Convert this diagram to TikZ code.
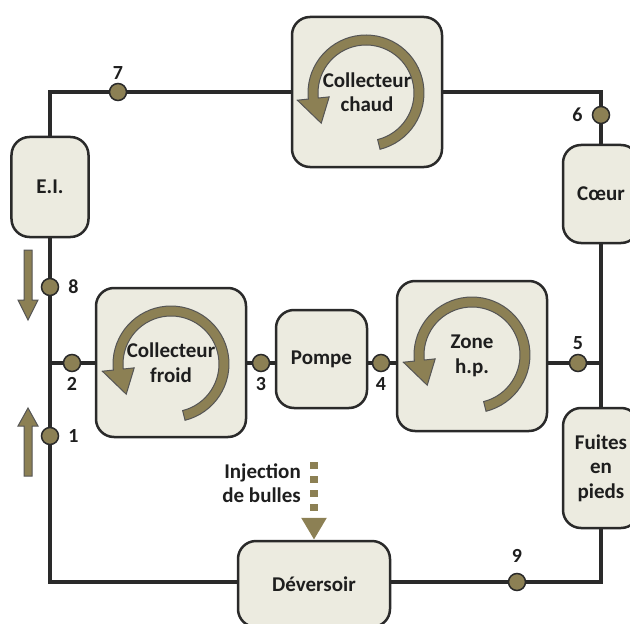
\documentclass[tikz,border=0pt]{standalone}
\usepackage{fontspec}
\setmainfont{Carlito}
\usetikzlibrary{positioning, arrows.meta, backgrounds}

\definecolor{fond}{HTML}{ECEBE0}
\definecolor{kaki}{HTML}{8C8054}
\definecolor{trait}{HTML}{2A2A2A}
\definecolor{encre}{HTML}{1E1E1E}

\begin{document}
\begin{tikzpicture}[x=1bp, y=-1bp,
    bloc/.style={draw=trait, fill=fond, line width=2.5bp, rounded corners=18bp, inner sep=0pt, align=center, text=encre, font=\bfseries\fontsize{21bp}{24.5bp}\selectfont},
    txt/.style={inner sep=0pt, align=center, text=encre, font=\bfseries\fontsize{21bp}{24.5bp}\selectfont},
    pt/.style={circle, draw=trait, fill=kaki, line width=1.5bp, minimum size=17bp, inner sep=0pt},
    num/.style={inner sep=0pt, text=encre, font=\bfseries\fontsize{20bp}{22bp}\selectfont},
    tuyau/.style={draw=trait, line width=4.5bp},
    fleche/.style={fill=kaki, draw=trait!80, line width=1bp},
    injection/.style={draw=kaki, line width=8bp, dash pattern=on 7bp off 7bp, -{Triangle[width=24bp, length=22bp]}}]
    \useasboundingbox (0,0) rectangle (630,624);
    % blocs
    \node[bloc, minimum width=150bp, minimum height=150bp] (chaud) at (367,92) {};
    \node[bloc, minimum width=77bp, minimum height=100bp] (EI) at (50,187) {E.I.};
    \node[bloc, minimum width=76bp, minimum height=98bp] (coeur) at (601,194) {Cœur};
    \node[bloc, minimum width=150bp, minimum height=149bp] (froid) at (171,362.5) {};
    \node[bloc, minimum width=91bp, minimum height=98bp] (pompe) at (321.5,359) {Pompe};
    \node[bloc, minimum width=150bp, minimum height=150bp] (zone) at (472,356) {};
    \node[bloc, minimum width=76bp, minimum height=120bp] (fuites) at (601,468) {Fuites\\en\\pieds};
    \node[bloc, minimum width=152bp, minimum height=86bp] (dev) at (314,584) {Déversoir};
    % points de mesure
    \node[pt] (p7) at (118,92) {};
    \node[pt] (p6) at (601,115) {};
    \node[pt] (p8) at (50,287) {};
    \node[pt] (p2) at (72,363) {};
    \node[pt] (p1) at (50,436) {};
    \node[pt] (p3) at (261,363) {};
    \node[pt] (p4) at (381,363) {};
    \node[pt] (p5) at (578,363) {};
    \node[pt] (p9) at (517,582) {};
    \node[num, above=3.5bp of p7] (l7) {7};
    \node[num, left=9bp of p6] (l6) {6};
    \node[num, right=9bp of p8] (l8) {8};
    \node[num, below=5bp of p2] (l2) {2};
    \node[num, right=9bp of p1] (l1) {1};
    \node[num, below=5bp of p3] (l3) {3};
    \node[num, below=5bp of p4] (l4) {4};
    \node[num, above=3.5bp of p5] (l5) {5};
    \node[num, above=10.5bp of p9] (l9) {9};
    % circuit
    \begin{scope}[on background layer]
        \draw[tuyau] (EI.center) |- (chaud.center) -| (coeur.center) -- (fuites.center) |- (p9.center) -| (EI.center);
        \draw[tuyau] (EI.center |- p2.center) -- (coeur.center |- p2.center);
    \end{scope}
    % fleches de recirculation
    \foreach \cx/\cy in {366/93, 171/364, 472/355}{
        \draw[fleche] plot[domain=76:-186, samples=50] ({\cx+58*cos(\x)}, {\cy+58*sin(\x)})
            -- ({\cx+69*cos(-186)}, {\cy+69*sin(-186)})
            -- ({\cx+54*cos(-214)}, {\cy+54*sin(-214)})
            -- ({\cx+37*cos(-186)}, {\cy+37*sin(-186)})
            -- plot[domain=-186:76, samples=50] ({\cx+48*cos(\x)}, {\cy+48*sin(\x)})
            -- cycle;
    }
    \node[txt] (chaudtxt) at (chaud) {Collecteur\\chaud};
    \node[txt] (froidtxt) at (froid) {Collecteur\\froid};
    \node[txt] (zonetxt) at (zone) {Zone\\h.p.};
    % sens d'ecoulement
    \draw[fleche] (24,250) -- (32,250) -- (32,300) -- (38,300) -- (28,320) -- (18,300) -- (24,300) -- cycle;
    \draw[fleche] (28,408) -- (38,426) -- (32,426) -- (32,476) -- (24,476) -- (24,426) -- (18,426) -- cycle;
    % injection
    \coordinate (injsrc) at (314,462);
    \draw[injection] (injsrc) -- (dev.north);
    \node[txt, align=right, anchor=east] (injtxt) at (301,483) {Injection\\de bulles};
\end{tikzpicture}
\end{document}
